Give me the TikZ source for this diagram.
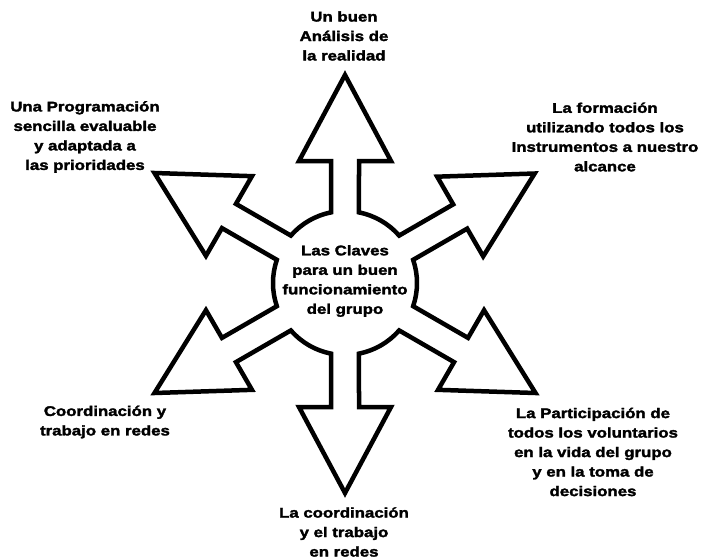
\documentclass[tikz,border=0pt]{standalone}
\usepackage{fontspec}
\setmainfont{Liberation Sans}[BoldFeatures={FakeBold=2.2,FakeStretch=1.2}]

\def\rad{72}
\def\sw{14}
\def\hw{46}
\def\hl{86}

\begin{document}
\begin{tikzpicture}[
  x=1pt,y=1pt,
  label/.style={font=\fontsize{14}{19.5}\bfseries\selectfont,align=center,inner sep=0pt},
  star/.style={draw,line width=4.5pt,line join=miter}
  ]
  \useasboundingbox (-345,-275) rectangle (356,283);
  \pgfmathsetmacro\da{asin(\sw/\rad)}

  % circle and the six arrows as one outline
  \draw[star] (90-\da:\rad)
    \foreach \a/\l in {90/208,150/220,210/220,270/210,330/220,30/219} {
      -- ([shift={(\a:\l-\hl)}]\a-90:\sw)
      -- ([shift={(\a:\l-\hl)}]\a-90:\hw)
      -- (\a:\l)
      -- ([shift={(\a:\l-\hl)}]\a+90:\hw)
      -- ([shift={(\a:\l-\hl)}]\a+90:\sw)
      -- (\a+\da:\rad)
      arc[start angle=\a+\da,end angle=\a+60-\da,radius=\rad]
    } -- cycle;

  \node[label] (claves) at (0,2) {Las Claves\\para un buen\\funcionamiento\\del grupo};
  \node[label] (analisis) at (-1,247) {Un buen\\Análisis de\\la realidad};
  \node[label] (programacion) at (-260,146) {Una Programación\\sencilla evaluable\\y adaptada a\\las prioridades};
  \node[label] (formacion) at (260,146) {La formación\\utilizando todos los\\Instrumentos a nuestro\\alcance};
  \node[label] (coordinacion) at (-240,-139) {Coordinación y\\trabajo en redes};
  \node[label] (participacion) at (248,-169) {La Participación de\\todos los voluntarios\\en la vida del grupo\\y en la toma de\\decisiones};
  \node[label] (redes) at (-1,-249) {La coordinación\\y el trabajo\\en redes};
\end{tikzpicture}
\end{document}
